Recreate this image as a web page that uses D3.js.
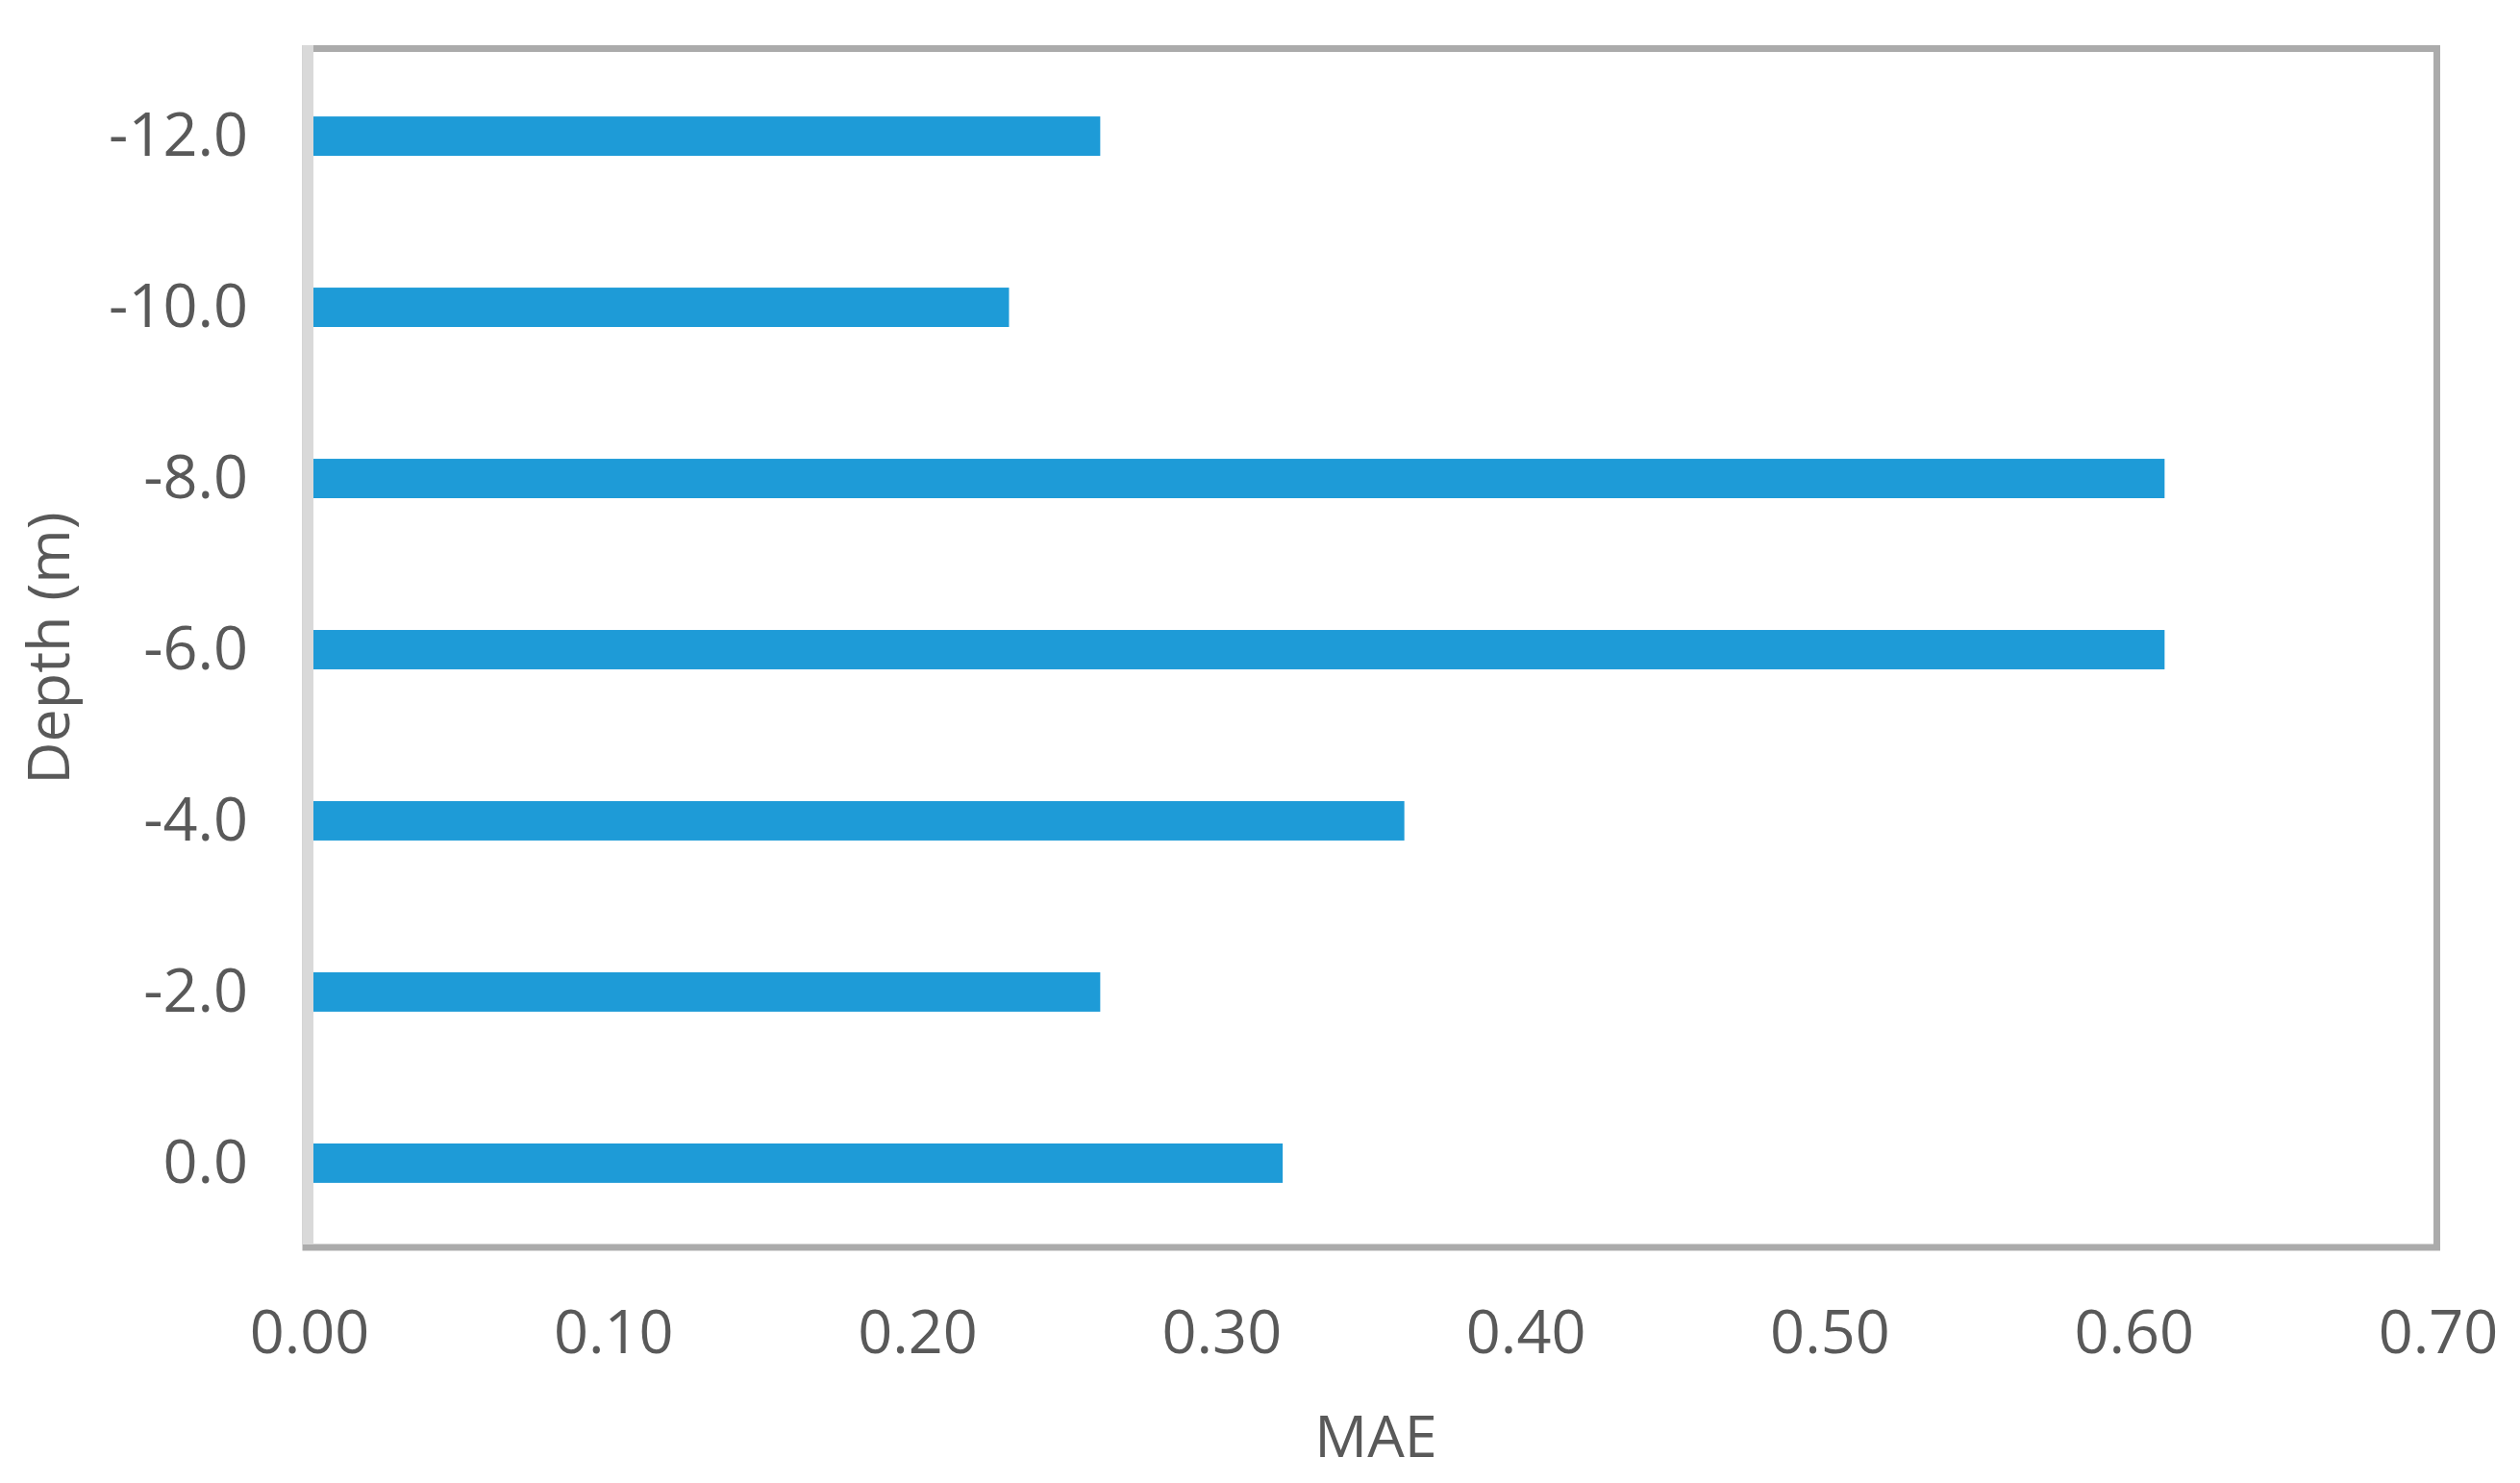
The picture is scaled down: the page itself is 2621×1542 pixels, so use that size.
<!DOCTYPE html>
<html>
<head>
<meta charset="utf-8">
<script src="https://cdn.jsdelivr.net/npm/d3@7"></script>
<style>
  html, body { margin: 0; padding: 0; background: #fff; }
  svg { display: block; }
</style>
</head>
<body>
<svg id="chart"></svg>
<script>
const depths = ['-12.0', '-10.0', '-8.0', '-6.0', '-4.0', '-2.0', '0.0'];
const maeValues = [0.26, 0.23, 0.61, 0.61, 0.36, 0.26, 0.32];
const xTicks = [0, 0.1, 0.2, 0.3, 0.4, 0.5, 0.6, 0.7];

const data = depths.map((label, i) => ({ label, value: maeValues[i] }));

const width = 2621;
const height = 1542;
const font = "'Open Sans', sans-serif";
const textColor = '#595959';

const svg = d3.select('#chart')
  .attr('width', width)
  .attr('height', height);

const x = d3.scaleLinear().domain([0, 0.7]).range([322, 2536]);
const y = d3.scaleBand()
  .domain(depths)
  .range([54, 1297])
  .paddingInner(0.77)
  .paddingOuter(0.377);

// plot area border
svg.append('rect')
  .attr('x', 318)
  .attr('y', 50.5)
  .attr('width', 2534.5 - 318)
  .attr('height', 1297 - 50.5)
  .attr('fill', 'none')
  .attr('stroke', '#ababab')
  .attr('stroke-width', 7);

svg.append('g')
  .selectAll('rect')
  .data(data)
  .join('rect')
  .attr('x', x(0))
  .attr('y', (d) => y(d.label))
  .attr('width', (d) => x(d.value) - x(0))
  .attr('height', y.bandwidth())
  .attr('fill', '#1e9bd7');

// vertical axis line
svg.append('line')
  .attr('x1', 320.5)
  .attr('x2', 320.5)
  .attr('y1', 47)
  .attr('y2', 1294)
  .attr('stroke', '#d9d9d9')
  .attr('stroke-width', 11);

// x tick labels
svg.append('g')
  .selectAll('text')
  .data(xTicks)
  .join('text')
  .attr('x', (d) => x(d))
  .attr('y', 1407)
  .attr('text-anchor', 'middle')
  .attr('font-family', font)
  .attr('font-size', 63)
  .attr('fill', textColor)
  .text((d) => d3.format('.2f')(d));

// y tick labels
svg.append('g')
  .selectAll('text')
  .data(depths)
  .join('text')
  .attr('x', 258)
  .attr('y', (d) => y(d) + y.bandwidth() / 2)
  .attr('dy', '0.325em')
  .attr('text-anchor', 'end')
  .attr('font-family', font)
  .attr('font-size', 63)
  .attr('fill', textColor)
  .text((d) => d);

svg.append('text')
  .attr('x', 1431)
  .attr('y', 1515)
  .attr('text-anchor', 'middle')
  .attr('font-family', font)
  .attr('font-size', 61)
  .attr('fill', textColor)
  .text('MAE');

svg.append('text')
  .attr('transform', 'translate(72, 674) rotate(-90)')
  .attr('text-anchor', 'middle')
  .attr('font-family', font)
  .attr('font-size', 61)
  .attr('fill', textColor)
  .text('Depth (m)');
</script>
</body>
</html>
